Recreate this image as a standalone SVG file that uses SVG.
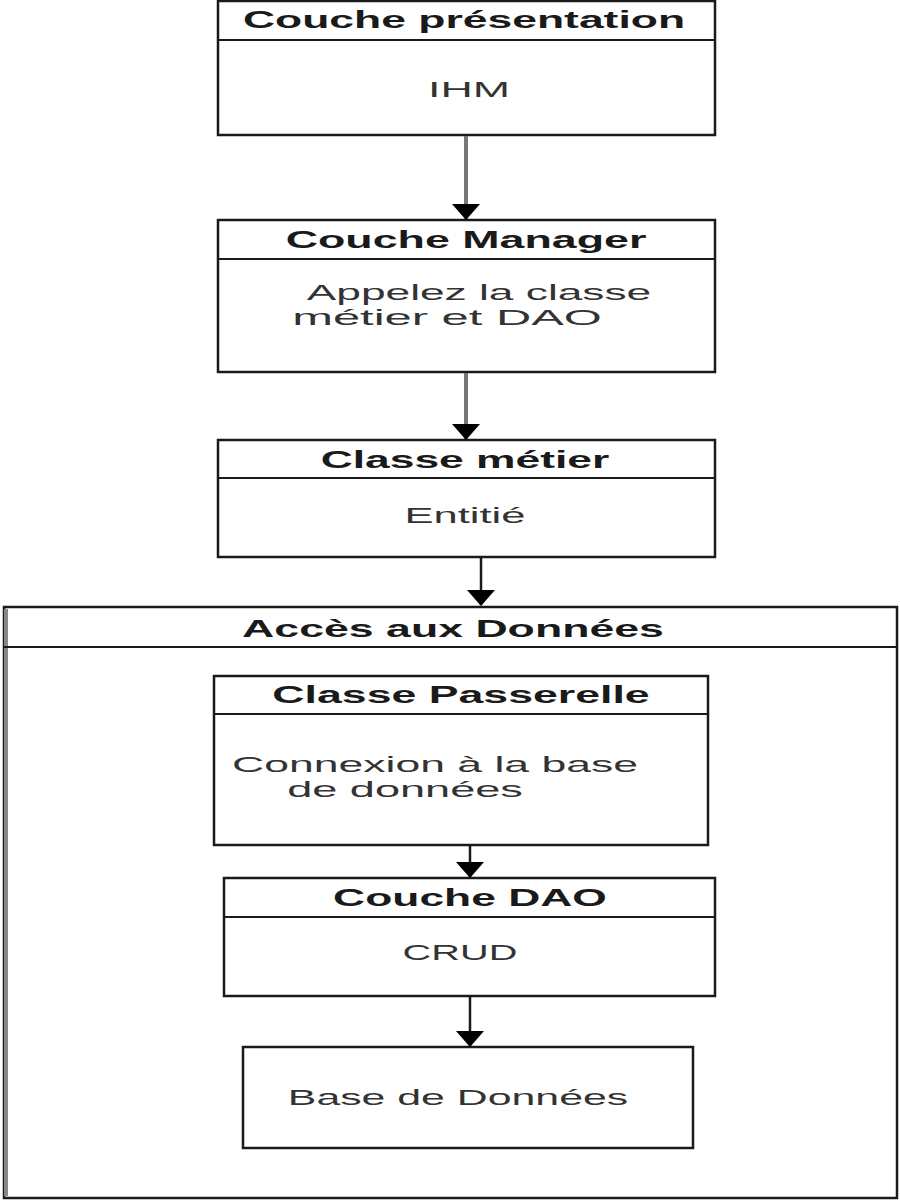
<svg xmlns="http://www.w3.org/2000/svg" width="900" height="1200" viewBox="0 0 900 1200">
<style>
.box{fill:#fff;stroke:#1a1a1a;stroke-width:2.5}
.sep{stroke:#1a1a1a;stroke-width:2}
.t{font-family:"Liberation Sans",Arial,sans-serif;font-weight:bold;font-size:24px;fill:#1a1a1a;text-anchor:middle}
.b{font-family:"Liberation Sans",Arial,sans-serif;font-size:22px;fill:#333;text-anchor:middle}
.c{stroke:#777;stroke-width:4;fill:none}
.c2{stroke:#1a1a1a;stroke-width:2.5;fill:none}
</style>
<defs>
<marker id="ah" markerWidth="16" markerHeight="28" refX="15" refY="14" orient="auto" markerUnits="userSpaceOnUse" viewBox="0 0 16 28">
<path d="M0,0 L16,14 L0,28 Z" fill="#000"/>
</marker>
</defs>
<rect width="900" height="1200" fill="#fff"/>
<g id="presentation">
<rect class="box" x="218" y="1" width="497" height="134"/>
<line class="sep" x1="218" y1="40" x2="715" y2="40"/>
<text class="t" transform="translate(464,28) scale(1.85,1)" textLength="239" lengthAdjust="spacingAndGlyphs">Couche présentation</text>
<text class="b" transform="translate(469,97) scale(2.05,1)" textLength="40" lengthAdjust="spacingAndGlyphs">IHM</text>
</g>
<g id="manager">
<rect class="box" x="218" y="220" width="497" height="152"/>
<line class="sep" x1="218" y1="259" x2="715" y2="259"/>
<text class="t" transform="translate(466,248) scale(1.85,1)" textLength="195" lengthAdjust="spacingAndGlyphs">Couche Manager</text>
<text class="b" transform="translate(479,300) scale(2.05,1)" textLength="168" lengthAdjust="spacingAndGlyphs">Appelez la classe</text>
<text class="b" transform="translate(447,325) scale(2.05,1)" textLength="151" lengthAdjust="spacingAndGlyphs">métier et DAO</text>
</g>
<g id="metier">
<rect class="box" x="218" y="440" width="497" height="117"/>
<line class="sep" x1="218" y1="478" x2="715" y2="478"/>
<text class="t" transform="translate(465,468) scale(1.85,1)" textLength="156" lengthAdjust="spacingAndGlyphs">Classe métier</text>
<text class="b" transform="translate(465,523) scale(2.05,1)" textLength="59" lengthAdjust="spacingAndGlyphs">Entitié</text>
</g>
<g id="acces">
<rect class="box" x="4" y="607" width="893" height="591"/>
<line stroke="#888" stroke-width="4" x1="6" y1="609" x2="6" y2="1196"/>
<line class="sep" x1="4" y1="647" x2="897" y2="647"/>
<text class="t" transform="translate(453,637) scale(1.85,1)" textLength="228" lengthAdjust="spacingAndGlyphs">Accès aux Données</text>
</g>
<g id="passerelle">
<rect class="box" x="214" y="676" width="494" height="169"/>
<line class="sep" x1="214" y1="714" x2="708" y2="714"/>
<text class="t" transform="translate(461,703) scale(1.85,1)" textLength="204" lengthAdjust="spacingAndGlyphs">Classe Passerelle</text>
<text class="b" transform="translate(435,772) scale(2.05,1)" textLength="198" lengthAdjust="spacingAndGlyphs">Connexion à la base</text>
<text class="b" transform="translate(405,797) scale(2.05,1)" textLength="115" lengthAdjust="spacingAndGlyphs">de données</text>
</g>
<g id="dao">
<rect class="box" x="224" y="878" width="491" height="118"/>
<line class="sep" x1="224" y1="917" x2="715" y2="917"/>
<text class="t" transform="translate(470,906) scale(1.85,1)" textLength="148" lengthAdjust="spacingAndGlyphs">Couche DAO</text>
<text class="b" transform="translate(460,960) scale(2.05,1)" textLength="56" lengthAdjust="spacingAndGlyphs">CRUD</text>
</g>
<g id="bdd">
<rect class="box" x="243" y="1047" width="450" height="101"/>
<text class="b" transform="translate(458,1105) scale(2.05,1)" textLength="166" lengthAdjust="spacingAndGlyphs">Base de Données</text>
</g>
<g id="connectors">
<line class="c" x1="466" y1="136" x2="466" y2="219" marker-end="url(#ah)"/>
<line class="c" x1="466" y1="373" x2="466" y2="439" marker-end="url(#ah)"/>
<line class="c2" x1="481" y1="558" x2="481" y2="605" marker-end="url(#ah)"/>
<line class="c2" x1="470" y1="846" x2="470" y2="877" marker-end="url(#ah)"/>
<line class="c2" x1="470" y1="997" x2="470" y2="1046" marker-end="url(#ah)"/>
</g>
</svg>
